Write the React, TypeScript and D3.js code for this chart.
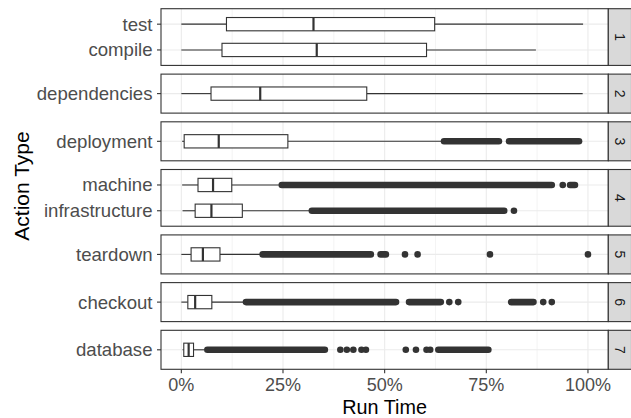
import React from "react";
import * as d3 from "d3";

// facet labels and action types, listed top to bottom
const panels = ["1", "2", "3", "4", "5", "6", "7"];
const categories = [
  "test", "compile", "dependencies", "deployment", "machine",
  "infrastructure", "teardown", "checkout", "database",
];
const panelOf = ["1", "1", "2", "3", "4", "4", "5", "6", "7"];

// box stats (share of run time)
const whiskerLow = [0, 0, 0, 0.002, 0.002, 0.003, 0, 0, 0.003];
const q1 = [0.111, 0.1, 0.073, 0.007, 0.041, 0.034, 0.024, 0.016, 0.006];
const median = [0.325, 0.333, 0.194, 0.092, 0.078, 0.074, 0.053, 0.034, 0.018];
const q3 = [0.623, 0.603, 0.456, 0.262, 0.124, 0.15, 0.095, 0.075, 0.03];
const whiskerHigh = [0.988, 0.872, 0.987, 0.64, 0.24, 0.316, 0.194, 0.157, 0.057];

// outliers: dense runs of overlapping points [from, to] and single points
const outlierRuns: number[][][] = [
  [], [], [],
  [[0.646, 0.781], [0.806, 0.978]],
  [[0.247, 0.911], [0.956, 0.968]],
  [[0.321, 0.794]],
  [[0.2, 0.466], [0.49, 0.503]],
  [[0.159, 0.528], [0.56, 0.638], [0.811, 0.866]],
  [[0.064, 0.353], [0.632, 0.755]],
];
const outlierPoints: number[][] = [
  [], [], [], [],
  [0.938],
  [0.818],
  [0.55, 0.581, 0.759, 1.0],
  [0.659, 0.681, 0.89, 0.911],
  [0.391, 0.407, 0.423, 0.443, 0.454, 0.552, 0.577, 0.603, 0.612],
];

const xTicks = [0, 0.25, 0.5, 0.75, 1];
const xMinor = [0.125, 0.375, 0.625, 0.875];

const width = 631;
const height = 418;
const left = 161;
const right = 608.3;
const top = 8.7;
const bottom = 369.3;
const gap = 8.7;
const stripW = 23.2;
const dark = "#333333";
const font = "'Liberation Sans', Arial, Helvetica, sans-serif";

export default function App() {
  const x = d3.scaleLinear().domain([-0.05, 1.05]).range([left, right]);
  const fmt = d3.format(".0%");

  // free space: each panel gets (n + 1.2) units
  const counts = panels.map((p) => panelOf.filter((q) => q === p).length);
  const units = d3.sum(counts, (n) => n + 1.2);
  const unit = (bottom - top - gap * (panels.length - 1)) / units;

  let cursor = top;
  const layout = panels.map((p, i) => {
    const h = (counts[i] + 1.2) * unit;
    const cats = categories.filter((_, j) => panelOf[j] === p);
    const y = d3.scalePoint<string>().domain(cats).range([cursor, cursor + h]).padding(0.6);
    const res = { p, y0: cursor, h, cats, y };
    cursor += h + gap;
    return res;
  });

  const boxH = 0.75 * unit;
  const r = 3.3;

  return (
    <svg width={width} height={height} style={{ position: "absolute", left: 0, top: 0, fontFamily: font }}>
      <rect width={width} height={height} fill="white" />
      {layout.map((pan) => (
        <g key={pan.p}>
          <rect x={left} y={pan.y0} width={right - left} height={pan.h} fill="white" />
          {/* grid */}
          {xMinor.map((t) => (
            <line key={"m" + t} x1={x(t)} x2={x(t)} y1={pan.y0} y2={pan.y0 + pan.h} stroke="#EBEBEB" strokeWidth={0.6} />
          ))}
          {xTicks.map((t) => (
            <line key={"M" + t} x1={x(t)} x2={x(t)} y1={pan.y0} y2={pan.y0 + pan.h} stroke="#EBEBEB" strokeWidth={1.1} />
          ))}
          {pan.cats.map((c) => (
            <line key={"g" + c} x1={left} x2={right} y1={pan.y(c)} y2={pan.y(c)} stroke="#EBEBEB" strokeWidth={1.1} />
          ))}
          {/* boxes */}
          {pan.cats.map((c) => {
            const i = categories.indexOf(c);
            const cy = pan.y(c) as number;
            return (
              <g key={c}>
                <line x1={x(whiskerLow[i])} x2={x(q1[i])} y1={cy} y2={cy} stroke={dark} strokeWidth={1.1} />
                <line x1={x(q3[i])} x2={x(whiskerHigh[i])} y1={cy} y2={cy} stroke={dark} strokeWidth={1.1} />
                <rect x={x(q1[i])} y={cy - boxH / 2} width={x(q3[i]) - x(q1[i])} height={boxH}
                  fill="white" stroke={dark} strokeWidth={1.1} />
                <line x1={x(median[i])} x2={x(median[i])} y1={cy - boxH / 2} y2={cy + boxH / 2} stroke={dark} strokeWidth={2.2} />
                {outlierRuns[i].map(([a, b], k) => (
                  <line key={"r" + k} x1={x(a)} x2={x(b)} y1={cy} y2={cy} stroke={dark} strokeWidth={2 * r} strokeLinecap="round" />
                ))}
                {outlierPoints[i].map((v, k) => (
                  <circle key={"p" + k} cx={x(v)} cy={cy} r={r} fill={dark} />
                ))}
                {/* y tick + label */}
                <line x1={left - 4} x2={left} y1={cy} y2={cy} stroke={dark} strokeWidth={1.1} />
                <text x={left - 8.5} y={cy} dy="0.35em" textAnchor="end" fontSize={18.6} fill="#4D4D4D">{c}</text>
              </g>
            );
          })}
          <rect x={left} y={pan.y0} width={right - left} height={pan.h} fill="none" stroke={dark} strokeWidth={1.1} />
          {/* strip */}
          <rect x={right} y={pan.y0} width={stripW} height={pan.h} fill="#D9D9D9" stroke={dark} strokeWidth={1.1} />
          <text transform={`translate(${right + stripW / 2},${pan.y0 + pan.h / 2}) rotate(90)`} textAnchor="middle"
            dy="0.35em" fontSize={14} fill="#1A1A1A">{pan.p}</text>
        </g>
      ))}
      {/* x axis */}
      {xTicks.map((t) => (
        <g key={"xt" + t}>
          <line x1={x(t)} x2={x(t)} y1={bottom} y2={bottom + 4} stroke={dark} strokeWidth={1.1} />
          <text x={x(t)} y={391} textAnchor="middle" fontSize={18} fill="#4D4D4D">{fmt(t)}</text>
        </g>
      ))}
      <text x={(left + right) / 2} y={413.8} textAnchor="middle" fontSize={19.8} fill="black">Run Time</text>
      <text transform="translate(28.5,186) rotate(-90)" textAnchor="middle" fontSize={21} fill="black">Action Type</text>
    </svg>
  );
}
